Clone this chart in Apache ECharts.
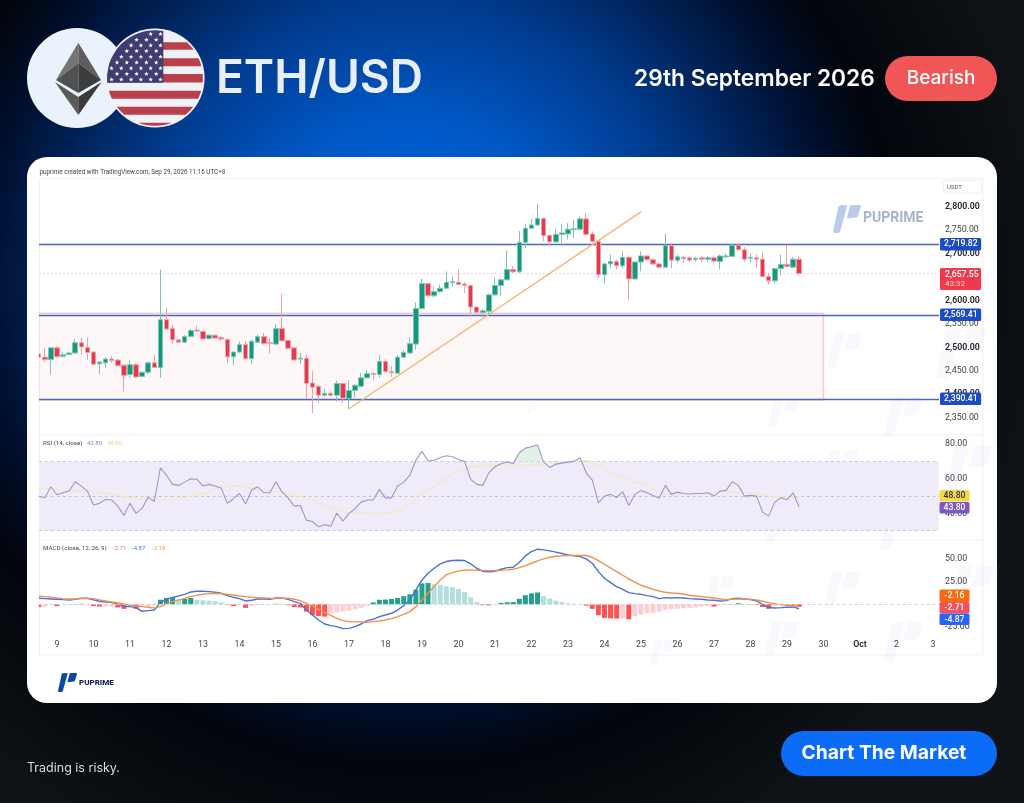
<!DOCTYPE html>
<html><head><meta charset="utf-8"><style>html,body{margin:0;padding:0;background:#000}#c{width:1024px;height:803px}</style>
<script src="https://cdn.jsdelivr.net/npm/echarts@6/dist/echarts.min.js"></script></head><body><div id="c"></div>
<script>
const tickLabels=['9','10','11','12','13','14','15','16','17','18','19','20','21','22','23','24','25','26','27','28','29','30','Oct','2','3'];
const priceLevels=[2719.82,2569.41,2390.41];
const lastPrice=2657.55;
const zoneTop=2573, zoneBottom=2388.5;
const rsiBands=[70,50,30];
// [open, close, low, high]
const candles=[
[2486,2479,2477,2488],[2479,2474,2469,2499],[2474,2499,2442,2500],[2499,2480,2479,2502],[2481,2484,2479,2490],[2485,2488,2484,2490],[2488,2510,2486,2518],[2510,2501,2484,2521],[2500,2489,2474,2521],[2490,2464,2462,2491],
[2465,2469,2443,2470],[2467,2475,2457,2479],[2475,2472,2467,2481],[2473,2461,2459,2475],[2462,2440,2406,2463],[2442,2463,2435,2474],[2463,2437,2435,2467],[2438,2447,2436,2449],[2447,2467,2443,2470],[2467,2457,2456,2484],
[2457,2559,2435,2666],[2559,2539,2538,2584],[2540,2516,2508,2548],[2516,2511,2509,2517],[2511,2523,2509,2526],[2523,2536,2522,2539],[2537,2535,2533,2546],[2534,2518,2516,2536],[2519,2526,2517,2528],[2526,2520,2518,2528],
[2521,2518,2513,2524],[2517,2480,2466,2519],[2480,2490,2462,2491],[2490,2506,2488,2513],[2506,2476,2472,2513],[2476,2513,2465,2516],[2511,2523,2510,2527],[2523,2508,2506,2531],[2510,2508,2487,2520],[2507,2540,2504,2550],
[2540,2514,2513,2614],[2515,2498,2496,2516],[2499,2473,2472,2500],[2475,2477,2465,2488],[2477,2423,2392,2484],[2424,2415,2360,2449],[2417,2398,2381,2420],[2398,2402,2395,2412],[2402,2398,2395,2405],[2398,2423,2385,2429],
[2423,2392,2381,2425],[2391,2408,2369,2430],[2408,2419,2392,2422],[2417,2435,2415,2445],[2435,2444,2434,2452],[2444,2442,2430,2448],[2442,2470,2435,2483],[2470,2448,2447,2475],[2448,2446,2437,2460],[2445,2479,2444,2484],
[2479,2489,2477,2494],[2488,2508,2486,2521],[2507,2583,2495,2596],[2583,2636,2582,2646],[2636,2610,2609,2637],[2610,2619,2607,2630],[2619,2626,2616,2634],[2626,2639,2624,2662],[2638,2640,2630,2651],[2639,2634,2633,2667],
[2635,2632,2616,2639],[2632,2586,2566,2634],[2586,2575,2572,2587],[2574,2578,2572,2582],[2577,2612,2570,2615],[2612,2632,2610,2648],[2632,2644,2609,2646],[2644,2666,2643,2707],[2666,2661,2658,2674],[2661,2724,2659,2748],
[2724,2754,2712,2764],[2754,2761,2752,2774],[2761,2775,2759,2806],[2775,2738,2726,2777],[2739,2725,2717,2740],[2725,2741,2722,2752],[2741,2744,2717,2763],[2742,2752,2730,2765],[2751,2753,2733,2772],[2752,2774,2749,2779],
[2774,2741,2739,2786],[2742,2726,2724,2747],[2726,2655,2648,2730],[2655,2678,2636,2680],[2678,2683,2669,2698],[2683,2674,2666,2687],[2674,2692,2669,2705],[2692,2646,2600,2696],[2646,2682,2643,2683],[2682,2695,2662,2705],
[2695,2687,2685,2697],[2687,2678,2675,2691],[2678,2671,2668,2681],[2671,2717,2669,2742],[2717,2686,2668,2722],[2686,2693,2681,2698],[2692,2689,2680,2695],[2691,2686,2681,2694],[2687,2690,2683,2693],[2691,2688,2681,2695],
[2688,2691,2683,2695],[2691,2684,2681,2694],[2683,2695,2666,2698],[2693,2695,2691,2701],[2694,2718,2693,2721],[2718,2708,2707,2724],[2708,2688,2683,2714],[2690,2692,2681,2701],[2691,2688,2669,2698],[2688,2651,2648,2703],
[2651,2642,2635,2659],[2642,2668,2637,2669],[2668,2677,2653,2698],[2677,2673,2671,2718],[2671,2688,2669,2693],[2688,2657.55,2653,2694]];
const rsi=[50,49,55.4,50.8,51.9,52.9,58.3,55.8,52.9,44.8,45.8,48.1,47.7,44.2,38.8,45.8,40,42.9,49.4,46.9,66.4,62.2,56.8,56.2,58.1,60,59.8,55.8,56.8,55.8,54.6,45.8,48.5,51.5,45.4,53.5,55.4,51.9,51.9,58.3,52.3,49,44.2,44.6,36.1,35.3,32.2,33.4,32.6,40.2,35.5,40,42.7,46.5,47.7,47.7,53.9,49,49,55.8,58.1,62,70.8,75.9,70.3,70.8,72.4,73.4,72.8,71.2,70.1,59.7,56.8,56.2,63.5,67,68.7,69.7,68.7,75.1,77.8,78.6,79.7,69.7,66.6,68.5,69.1,69.7,70.1,72.2,63.5,59.3,46.1,50,51,49.2,52.5,44.6,51,53.3,51.9,50.4,48.8,56.2,51,52.3,51.5,51.2,51.5,51.5,51.9,50,52.9,53.3,58.3,56.2,50,50.4,50,40.7,38.4,46.5,49,47.9,51.9,43.8];
const rsiMA=[54.8,54.6,54.2,53.9,53.3,53.1,53.1,53.1,52.9,52.3,51.9,51.4,51,50.4,49.6,49,48.6,48.1,47.7,47.5,47.5,47.7,48.3,48.8,49.2,50,50.8,51.5,52.7,54.2,55.4,55.8,56,56,55.4,54.4,53.9,53.5,53.1,52.9,52.7,51.7,50.8,49.8,48.6,47.5,46.1,44.8,43.4,42.1,40.7,40.4,40.4,40.2,40,40,40,40.2,40.4,41.3,43.1,45.2,48.1,51,53.5,55.8,58.1,60.4,62.5,64.5,65.8,66.8,67.4,67.8,67.8,67.8,67.8,67.6,67.4,67.6,67.8,68,68.3,68.7,68.9,69.3,69.7,70.1,70.3,70.5,70.5,69.9,67.8,65.8,63.9,62,60.4,59.3,58.1,57.2,55.8,54.2,52.5,51.4,51,51,51.2,51.4,51.5,51.7,51.9,52.1,52.3,52.5,52.5,52.5,52.3,51.9,51.4,50.8,50.2,49.8,49.4,49.4,49.2,48.8];
const macd=[6.6,6.3,5.9,5.5,5.1,4.8,5.5,6.6,6.6,4.8,3.3,2.6,1.8,0.4,-2.6,-2.6,-3.7,-7.7,-7,-6.3,1.8,5.9,7.7,9.2,11,13.6,14.3,14.3,14,13.2,12.1,9.6,7.7,6.3,3.7,4.4,5.9,5.9,5.5,7,7,5.5,2.9,1.1,-6.3,-11.8,-17.3,-21.7,-23.5,-24.6,-26.8,-26.5,-24.6,-21.7,-18,-16.5,-13.6,-11.8,-9.9,-6.3,-1.5,4.8,15.8,26.8,34.2,39.7,44.5,47.1,48.2,48.5,48.2,44.5,39.7,36.4,35.7,36.4,38.6,40.4,40.8,46,53.3,58.1,60.7,59.9,58.8,57.4,55.9,54.4,53.3,52.6,50,45.2,36,28.7,23.9,19.5,16.5,12.9,11.8,11,9.6,8.5,6.3,7.4,7,7.4,7,6.3,5.9,5.5,4.8,4.4,3.7,4,6.3,6.6,5.9,5.1,3.7,-0.4,-3.3,-4,-3.7,-3.3,-2.9,-4.87];
const signal=[9.2,8.5,7.7,7,6.3,5.9,5.9,6.3,6.6,6.3,4.8,3.7,2.6,1.5,0.4,-1.1,-1.8,-2.6,-3.3,-4,-2.6,0.4,2.9,4.8,6.6,8.5,9.9,11,11.8,12.1,11.8,11,10.3,9.2,8.5,7.7,7.4,7,6.6,6.3,6.6,6.6,5.5,4,1.1,-1.8,-5.5,-9.2,-12.1,-15.4,-18,-19.1,-19.1,-19.5,-19.9,-19.1,-18.4,-17.3,-15.8,-13.6,-11,-8.1,-2.6,4.8,12.1,19.5,26.8,32.4,34.9,36.8,37.5,37.9,37.5,37.1,37.1,37.1,37.5,37.9,38.6,40.4,42.6,45.2,47.8,50,51.8,52.9,53.3,53.7,53.7,53.7,53.7,51.8,48.2,44.1,40.1,36,32,27.9,24.3,21,18.8,16.5,14.7,13.2,12.5,12.1,11,9.9,9.2,8.5,7.7,7,5.9,5.1,5.5,5.9,5.9,5.5,4.8,3.3,1.8,0.7,-0.6,-1,-1.5,-2.16];
const hist=[-3,-3,-0.3,-2,-0.3,-0.2,0.2,0.5,0.2,-2,-2.5,-2.5,-2.5,-3.5,-5,-3,-5,-3,-2,-1.5,5,7,8,5,6,7,5,4.5,4,3.5,2,-0.5,-2,-0.8,-4,-2,-1,-0.5,-0.3,0.5,0.3,-1,-3,-3.5,-8,-12,-13,-13.5,-10,-9,-8,-7,-5.5,-4,-1.5,2,5,5.2,6,7,9,11,16,23,23.5,22,21.5,20,19,17,13.5,7.5,2.5,-1,-1.2,-0.5,1.5,2.2,2.4,6,10,12,13,9,6.5,4,2.5,1,0.5,0,-1.5,-5,-12,-15,-15.5,-15.7,-15.5,-16.5,-13,-11.5,-10,-9.5,-8,-6,-5.5,-5,-4.5,-4,-3.5,-2.5,-2,-2.5,-1,-0.5,0.3,1.2,0.3,-0.3,-0.8,-3,-5,-2,-1,-1.5,-2,-2.71];
const trendIdx=[51,99], trendVal=[2369,2789];
const zoneEnd=129, bandEnd=148, obFrom=78, obTo=83;

const FONT='Roboto, "Liberation Sans", sans-serif';
const HEAD='Inter, Roboto, sans-serif';
const N=149, W=6.083, L=35.7;
const categories=Array.from({length:N},(_,i)=>'c'+i);
const dayLabel=i=>(i-3)%6===0&&i>=3?tickLabels[(i-3)/6]:'';
const fmt=v=>v.toLocaleString('en-US',{minimumFractionDigits:2,maximumFractionDigits:2});

const g=[];
const rect=(x,y,w,h,fill,r,z,extra)=>g.push({type:'rect',silent:true,z:z||0,shape:{x,y,width:w,height:h,r:r||0},style:Object.assign({fill},extra||{})});
const text=(x,y,t,size,fill,weight,align,z,fam)=>g.push({type:'text',silent:true,z:z||1,x,y,style:{text:t,font:(weight||400)+' '+size+'px '+(fam||FONT),fill,align:align||'left',verticalAlign:'middle'}});
const poly=(pts,fill,z)=>g.push({type:'polygon',silent:true,z:z||0,shape:{points:pts},style:{fill}});
const circ=(cx,cy,r,fill,z)=>g.push({type:'circle',silent:true,z:z||0,shape:{cx,cy,r},style:{fill}});
// background
g.push({type:'rect',silent:true,z:-10,shape:{x:0,y:0,width:1024,height:803},style:{fill:new echarts.graphic.RadialGradient(410,280,640,[{offset:0,color:'#0068e0'},{offset:.25,color:'#0058c6'},{offset:.44,color:'#013a8c'},{offset:.66,color:'#001030'},{offset:.76,color:'#02050b'},{offset:1,color:'#0f1317'}],true)}});
rect(27,157,970,546,'#ffffff',20,-9);
// logo helper
function logo(x,y,s,fill,z){
  const P=a=>a.map(p=>[x+p[0]*s,y+p[1]*s]);
  poly(P([[5.5,1.5],[7,0.2],[13.5,0],[14,1.5],[7,27],[5.5,28],[0.8,28],[0,26.5]]),fill,z);
  poly(P([[17,1],[18,0],[27,0],[28,1],[25,11],[23.5,12.5],[14.5,13.5],[14,12.5]]),fill,z);
}
const marks=[[717,336,.85],[827,333,1.25],[936,328,1.8],[768,397,1.1],[884,397,1.4],[706,459,.9],[822,450,1.3],[945,445,1.7],[766,510,1.2],[880,508,1.5],[706,575,1],[824,572,1.3],[950,565,1.6],[765,622,1.2],[884,622,1.4],[592,345,.45],[650,640,.9],[528,406,.3]];
marks.forEach(m=>logo(m[0],m[1],m[2],'rgba(190,203,235,.12)',-5));
logo(833,205,1,'#b9cdea',-5);
text(863,218.5,'PUPRIME',14,'#a7b4c8',700,'left',-4);
// panes
[[39,178,944,0.8],[39,434.5,944,0.8],[39,539.5,944,0.8],[39,654.5,944,0.8]].forEach(a=>rect(a[0],a[1],a[2],a[3],'#eeeef2',0,-6));
rect(39,178,.8,477,'#eeeef2',0,-6); rect(982.6,178,.8,477,'#eeeef2',0,-6);
rect(33,179,5.8,430,'#ffffff',0,20);
rect(943.5,180.5,38,12.5,'#ffffff',2,1,{stroke:'#eeeeee',lineWidth:.8});
text(947,187,'USDT',6,'#555');
text(39.5,172,'puprime created with TradingView.com, Sep 29, 2026 11:16 UTC+8',6.3,'#444');
text(43,443,'RSI (14, close)',6.2,'#444');
text(87,443,'43.80',6,'#8f7cc8'); text(107,443,'48.80',6,'#ecd27a');
text(43,548,'MACD (close, 12, 26, 9)',6.2,'#444');
text(113,548,'-2.71',6,'#ef6a72'); text(132,548,'-4.87',6,'#4a72d8'); text(152,548,'-2.16',6,'#f09a55');
// last value boxes
const tag=(x,y,w,h,fill,t,col,z)=>{rect(x,y,w,h,fill,1.5,z||30);text(x+w/2,y+h/2+.3,t,8.6,col,500,'center',(z||30)+1);};
rect(940,268,41,22,'#ee3a4c',1.5,30);
text(945,274.5,fmt(lastPrice),8.6,'#fff',500,'left',31); text(945,284,'43:32',8,'#ffd9dc',400,'left',31);
tag(939.5,490,30,11.5,'#f4d84a','48.80','#333');
tag(939.5,502,30,11.5,'#7e57c2','43.80','#fff');
tag(939.5,589.5,30,12.5,'#fb6a10','-2.16','#fff');
tag(939.5,602,30,11.5,'#f5505c','-2.71','#fff');
tag(939.5,613.5,30,11.5,'#2962ff','-4.87','#fff');
// header: ETH
circ(77,78,50,'#eaf2fc',1);
poly([[78.3,42.7],[56,80],[78.3,63]],'#757575',2);poly([[78.3,42.7],[101,80],[78.3,63]],'#5d5d5d',2);
poly([[56,80],[78.3,63],[78.3,93]],'#505050',2);poly([[101,80],[78.3,63],[78.3,93]],'#3d3d3d',2);
poly([[55,82],[78.3,97],[78.3,115]],'#5a5a5a',2);poly([[101.5,82],[78.3,97],[78.3,115]],'#3a3a3a',2);
// flag
const FC=[155,78,47.8];
circ(FC[0],FC[1],FC[2]+1.8,'#eef2f8',3);
function band(y1,y2,x1,x2,fill,z){
  const pts=[],pl=[];const [cx,cy,r]=FC;
  for(let y=y1;y<=y2+.01;y+=.5){const d=Math.sqrt(Math.max(0,r*r-(y-cy)*(y-cy)));pts.push([Math.min(x2,cx+d),y]);pl.unshift([Math.max(x1,cx-d),y]);}
  poly(pts.concat(pl),fill,z);
}
[[42.3,50],[58.3,66.7],[74,82.7],[90.7,98.7],[106.7,114.7],[122.7,125.8]].forEach(s=>band(s[0],s[1],100,210,'#b8404b',4));
band(30.2,82.7,100,163.3,'#3f3d72',4);
function star(cx,cy,r){const p=[];for(let i=0;i<10;i++){const a=-Math.PI/2+i*Math.PI/5,q=i%2?r*.42:r;p.push([cx+q*Math.cos(a),cy+q*Math.sin(a)]);}poly(p,'#ffffff',5);}
for(let row=0;row<9;row++){const odd=row%2===1;for(let c=0;c<(odd?5:6);c++){const x=(odd?117:111.5)+c*9.8,y=34+row*5.7;if(Math.hypot(x-FC[0],y-FC[1])<FC[2]-2)star(x,y,2.4);}}
text(216,79.5,'ETH/USD',46,'#e9eff9',600,'left',2,HEAD);
text(634,79,'29th September 2026',22.7,'#ffffff',600,'left',2,HEAD);
rect(885,56,112,45,'#f05656',22.5,1);
text(941,78.5,'Bearish',19,'#ffffff',500,'center',2,HEAD);
rect(781,731,216,45,'#0a6cf7',22.5,1);
text(884,753.5,'Chart The Market',19.3,'#ffffff',700,'center',2,HEAD);
text(27,768,'Trading is risky.',12.5,'#d9dce3',400,'left',2,HEAD);
logo(58,673,.68,'#0d47a8',1);
text(79,683,'PUPRIME',8,'#14224a',800,'left',2);

const axisY=(idx,min,max,grid,bold)=>({type:'value',gridIndex:idx,position:'right',min,max,interval:grid,splitLine:{show:false},axisLine:{show:false},axisTick:{show:false},
  axisLabel:{margin:3,hideOverlap:false,showMinLabel:true,showMaxLabel:true,formatter:v=>{if((idx!==1&&v===max)||(idx===1&&v===20)||(idx===2&&v===0))return '';const s=fmt(v);return (bold&&v%100===0)?'{b|'+s+'}':'{n|'+s+'}';},
  rich:{b:{fontFamily:FONT,fontSize:8.8,fontWeight:600,color:'#222'},n:{fontFamily:FONT,fontSize:8.8,color:'#444'}}}});
const axisX=(idx,show)=>({type:'category',gridIndex:idx,data:categories,boundaryGap:true,axisLine:{show:false},axisTick:{show:false},splitLine:{show:false},
  axisLabel:show?{show:true,interval:0,hideOverlap:false,margin:13,fontFamily:FONT,fontSize:8.8,color:'#444',formatter:(v,i)=>{const t=dayLabel(i);return t==='Oct'?'{o|Oct}':t;},rich:{o:{fontFamily:FONT,fontSize:8.8,fontWeight:600,color:'#222'}}}:{show:false}});
const dash={color:'#c9c3d8',type:[3,3],width:1};
const obIdx=categories.map((_,i)=>i>=obFrom&&i<=obTo&&i<rsi.length);
const levelLine=v=>[{xAxis:0,yAxis:v,lineStyle:{color:'#4a68bd',width:1.3,type:'solid'},label:{show:true,position:'end',distance:1,formatter:fmt(v),color:'#fff',fontFamily:FONT,fontSize:8.6,fontWeight:500,backgroundColor:'#1c4cc4',padding:[2,3.5,1.5,4],borderRadius:1.5}},{xAxis:bandEnd,yAxis:v}];
const option={animation:false,backgroundColor:'transparent',graphic:{elements:g},
  grid:[{left:L,width:W*N,top:183.25,height:234.45},{left:L,width:W*N,top:444.3,height:103.6},{left:L,width:W*N,top:536.2,height:90.8}],
  xAxis:[axisX(0,false),axisX(1,false),axisX(2,true)],
  yAxis:[axisY(0,2350,2850,50,true),axisY(1,20,80,20,false),axisY(2,-25,75,25,false)],
  series:[
   {type:'candlestick',xAxisIndex:0,yAxisIndex:0,z:5,barWidth:5,data:candles,clip:false,
    itemStyle:{color:'#139a7c',color0:'#e7394e',borderColor:'#7cc5b4',borderColor0:'#eda0aa',borderWidth:1},
    markArea:{silent:true,z:1,itemStyle:{color:'#fdf7f7',borderColor:'#f5ccd6',borderWidth:1.5},data:[[{xAxis:0,yAxis:zoneTop},{xAxis:zoneEnd,yAxis:zoneBottom}]]},
    markLine:{silent:true,symbol:'none',z:3,animation:false,data:[
      ...priceLevels.map(levelLine),
      [{xAxis:0,yAxis:lastPrice,lineStyle:{color:'#ecd2d2',width:1,type:[2,2]},label:{show:false}},{xAxis:bandEnd,yAxis:lastPrice}],
      [{coord:[trendIdx[0],trendVal[0]],lineStyle:{color:'#f2b96a',width:1.4,type:'solid'},label:{show:false}},{coord:[trendIdx[1],trendVal[1]]}]
    ]}},
   {type:'line',xAxisIndex:1,yAxisIndex:1,z:3,symbol:'none',data:rsiMA,lineStyle:{color:'#f3e8c4',width:1.3},
    markArea:{silent:true,z:1,itemStyle:{color:'#efebf9'},data:[[{xAxis:0,yAxis:rsiBands[0]},{xAxis:bandEnd,yAxis:rsiBands[2]}]]},
    markLine:{silent:true,symbol:'none',z:2,label:{show:false},lineStyle:dash,data:rsiBands.map(v=>[{xAxis:0,yAxis:v},{xAxis:bandEnd,yAxis:v}])}},
   {type:'line',xAxisIndex:1,yAxisIndex:1,stack:'ob',z:2,symbol:'none',lineStyle:{width:0},data:rsi.map((v,i)=>obIdx[i]?70:null)},
   {type:'line',xAxisIndex:1,yAxisIndex:1,stack:'ob',z:2,symbol:'none',lineStyle:{width:0},areaStyle:{color:'#d5ebdd'},data:rsi.map((v,i)=>obIdx[i]?Math.max(v-70,0):null)},
   {type:'line',xAxisIndex:1,yAxisIndex:1,z:4,symbol:'none',data:rsi,lineStyle:{color:'#a294cd',width:1.1}},
   {type:'bar',xAxisIndex:2,yAxisIndex:2,z:2,barWidth:5,data:hist.map((v,i)=>{const p=i?hist[i-1]:0;const col=v>=0?(v>=p?'#26a08e':'#b2dfdb'):(v<p?'#ff5252':'#ffcdd2');return {value:v,itemStyle:{color:col}};}),
    markLine:{silent:true,symbol:'none',label:{show:false},lineStyle:{color:'#cfcfd6',type:[3,3],width:1},data:[[{xAxis:0,yAxis:0},{xAxis:bandEnd,yAxis:0}]]}},
   {type:'line',xAxisIndex:2,yAxisIndex:2,z:3,clip:false,symbol:'none',data:macd,lineStyle:{color:'#4a72d6',width:1.4}},
   {type:'line',xAxisIndex:2,yAxisIndex:2,z:4,clip:false,symbol:'none',data:signal,lineStyle:{color:'#f0934a',width:1.4}}
  ]};
const chart=echarts.init(document.getElementById('c'),null,{renderer:'canvas',width:1024,height:803});
chart.setOption(option);
</script></body></html>
